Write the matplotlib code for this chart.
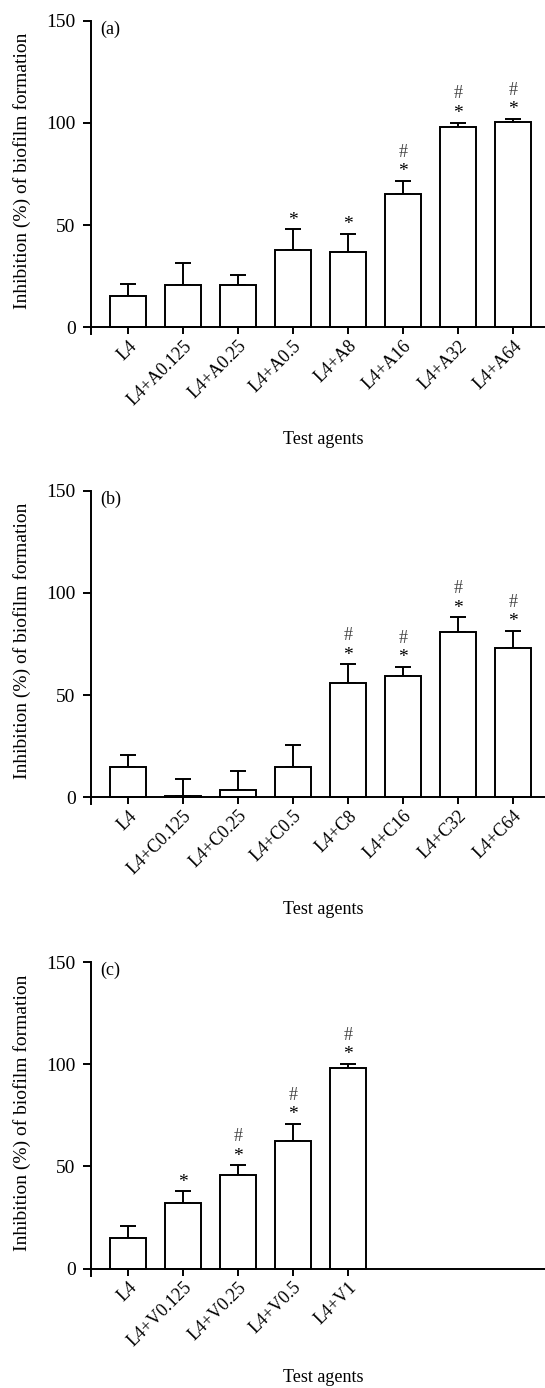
import numpy as np
import matplotlib
matplotlib.use('Agg')
import matplotlib.pyplot as plt
import matplotlib.transforms as mtransforms

plt.rcParams.update({'font.family': 'Liberation Serif', 'font.size': 13})

# ---- data ----
labels_a = ['L4', 'L4+A0.125', 'L4+A0.25', 'L4+A0.5', 'L4+A8', 'L4+A16', 'L4+A32', 'L4+A64']
mean_a = [15.2, 20.5, 20.5, 37.8, 37.0, 65.1, 98.2, 100.3]
sd_a = [6.0, 11.0, 5.1, 10.1, 8.6, 6.7, 2.0, 1.8]
sig_a = ['', '', '', '*', '*', '*#', '*#', '*#']

labels_b = ['L4', 'L4+C0.125', 'L4+C0.25', 'L4+C0.5', 'L4+C8', 'L4+C16', 'L4+C32', 'L4+C64']
mean_b = [14.6, 0.8, 3.5, 15.0, 55.9, 59.5, 81.1, 73.2]
sd_b = [5.9, 8.2, 9.5, 10.5, 9.1, 4.2, 7.0, 8.1]
sig_b = ['', '', '', '', '*#', '*#', '*#', '*#']

labels_c = ['L4', 'L4+V0.125', 'L4+V0.25', 'L4+V0.5', 'L4+V1']
mean_c = [14.9, 32.1, 45.8, 62.5, 98.4]
sd_c = [6.0, 5.7, 4.8, 8.3, 1.9]
sig_c = ['', '*', '*#', '*#', '*#']

W, H = 545, 1388
fig = plt.figure(figsize=(W / 100, H / 100), dpi=100)

panels = [
    ('(a)', labels_a, mean_a, sd_a, sig_a, 334.3, 439),
    ('(b)', labels_b, mean_b, sd_b, sig_b, 804.2, 909),
    ('(c)', labels_c, mean_c, sd_c, sig_c, 1275.6, 1378),
]

for tag, labs, mean, sd, sig, bottom_px, xlab_px in panels:
    ax = fig.add_axes([91 / W, 1 - bottom_px / H, (W - 91) / W, 313.5 / H])
    x = np.arange(len(labs))
    ax.bar(x, mean, width=0.655, color='white', edgecolor='black', linewidth=1.4, zorder=2)
    ax.errorbar(x, mean, yerr=[np.zeros(len(sd)), sd], fmt='none', ecolor='black',
                elinewidth=1.4, capsize=6, capthick=1.4, zorder=1)
    for xi, m, s, g in zip(x, mean, sd, sig):
        top = m + s
        if '*' in g:
            ax.text(xi, top + 4.5, '*', ha='center', va='center', fontsize=14)
        if '#' in g:
            ax.text(xi, top + 14.0, '#', ha='center', va='center', fontsize=13, color='#444444')

    ax.set_xlim(-0.673, 7.58)
    ax.set_ylim(-3.4, 150)
    ax.spines['top'].set_visible(False)
    ax.spines['right'].set_visible(False)
    ax.spines['bottom'].set_position(('data', 0))
    ax.spines['left'].set_linewidth(1.4)
    ax.spines['bottom'].set_linewidth(1.4)
    ax.tick_params(axis='y', length=6, width=1.4, direction='out', pad=5, labelsize=14)
    ax.tick_params(axis='x', length=5, width=1.4, direction='out', pad=3, labelsize=13)
    ax.set_yticks([0, 50, 100, 150])
    ax.set_xticks(x)
    ax.set_xticklabels(labs, rotation=45, ha='right', va='center', rotation_mode='anchor')
    offset = mtransforms.ScaledTranslation(6 / 100, -5 / 100, fig.dpi_scale_trans)
    for t in ax.get_xticklabels():
        t.set_transform(t.get_transform() + offset)
    ax.text(0.02, 1.0, tag, transform=ax.transAxes, ha='left', va='top')

    zero_px = bottom_px - 7
    ymid = zero_px - 156
    fig.text(22 / W, 1 - ymid / H, 'Inhibition (%) of biofilm formation',
             rotation=90, ha='center', va='center', fontsize=14)
    fig.text(323 / W, 1 - xlab_px / H, 'Test agents', ha='center', va='center')

fig.savefig('out.png', dpi=100)
